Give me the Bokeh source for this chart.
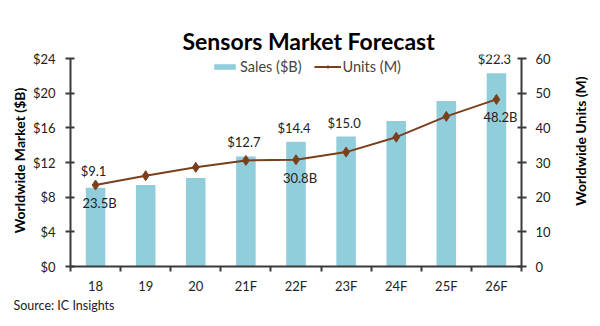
import math
from bokeh.plotting import figure
from bokeh.models import (Range1d, LinearAxis, FixedTicker, Label, Legend, LegendItem,
                          ColumnDataSource, NumeralTickFormatter, Title)
from bokeh.embed import file_html
from bokeh.resources import INLINE

# ---- data ----
years = ["18", "19", "20", "21F", "22F", "23F", "24F", "25F", "26F"]
sales = [9.1, 9.4, 10.2, 12.7, 14.4, 15.0, 16.8, 19.1, 22.3]
units = [23.5, 26.2, 28.6, 30.6, 30.8, 33.0, 37.3, 43.3, 48.2]
sales_label_idx = [0, 3, 4, 5, 8]
units_label_idx = [0, 4, 8]
sales_ticks = [0, 4, 8, 12, 16, 20, 24]
units_ticks = [0, 10, 20, 30, 40, 50, 60]
units_title = "Worldwide Units (M)"

FONT = "Lato"
BAR = "#92CDDC"
LINE = "#7B3F1C"
AXIS = "#3A3A3A"

xs = [i + 0.5 for i in range(len(years))]
sales_max = 24.0
units_max = 60.0
head = 24.0 / 208.0 * 4  # small headroom above the top tick so top labels are not clipped
ratio = units_max / sales_max
units_title_pos = 17.5  # where the rotated right-hand axis title starts (in units)

src = ColumnDataSource(dict(x=xs, sales=sales, units=units))

p = figure(width=600, height=326, output_backend="svg", toolbar_location=None,
           x_range=Range1d(0, len(years)), y_range=Range1d(0, sales_max + head),
           min_border_left=70, min_border_right=70, min_border_top=54, min_border_bottom=60,
           y_axis_location=None, x_axis_location=None)
p.extra_y_ranges = {"units": Range1d(0, (sales_max + head) * ratio)}
p.outline_line_color = None
p.xgrid.visible = False
p.ygrid.visible = False
p.background_fill_color = "white"
p.border_fill_color = "white"

p.title.text = "Sensors Market Forecast"
p.title.align = "left"
p.title.offset = 112
p.title.text_font = FONT
p.title.text_font_size = "23px"
p.title.text_font_style = "bold"
p.title.text_color = "black"
p.title.standoff = 0

# axes
xaxis = LinearAxis(ticker=FixedTicker(ticks=xs, minor_ticks=list(range(len(years) + 1))),
                   major_label_overrides={x: y for x, y in zip(xs, years)})
xaxis.major_tick_in = 0
xaxis.major_tick_out = 0
xaxis.minor_tick_in = 0
xaxis.minor_tick_out = 5
xaxis.major_label_standoff = 6
p.add_layout(xaxis, "below")

yaxis = LinearAxis(ticker=FixedTicker(ticks=sales_ticks), axis_label="Worldwide Market ($B)",
                   formatter=NumeralTickFormatter(format="$0"), bounds=(0, sales_max))
yaxis.major_tick_in = 4
yaxis.major_tick_out = 5
yaxis.major_label_standoff = 10
yaxis.axis_label_standoff = 2
p.add_layout(yaxis, "left")

raxis = LinearAxis(y_range_name="units", ticker=FixedTicker(ticks=units_ticks),
                   bounds=(0, units_max))
raxis.major_tick_in = 4
raxis.major_tick_out = 5
raxis.major_label_standoff = 9
p.add_layout(raxis, "right")

for ax in (xaxis, yaxis, raxis):
    ax.axis_line_color = AXIS
    ax.axis_line_width = 2
    ax.major_tick_line_color = AXIS
    ax.major_tick_line_width = 2
    ax.minor_tick_line_color = AXIS
    ax.minor_tick_line_width = 2
    ax.major_label_text_font = FONT
    ax.major_label_text_font_size = "13px"
    ax.major_label_text_color = "#222222"
    ax.axis_label_text_font = FONT
    ax.axis_label_text_font_size = "14px"
    ax.axis_label_text_font_style = "bold"
    ax.axis_label_text_color = "black"
yaxis.minor_tick_line_color = None
raxis.minor_tick_line_color = None

# right-hand axis title, reading bottom-to-top
rtitle = LinearAxis(y_range_name="units", ticker=FixedTicker(ticks=[units_title_pos]),
                    major_label_overrides={units_title_pos: units_title},
                    major_label_orientation=math.pi / 2)
rtitle.axis_line_color = None
rtitle.major_tick_line_color = None
rtitle.minor_tick_line_color = None
rtitle.major_tick_in = 0
rtitle.major_tick_out = 0
rtitle.major_label_standoff = 27
rtitle.major_label_text_font = FONT
rtitle.major_label_text_font_size = "14px"
rtitle.major_label_text_font_style = "bold"
rtitle.major_label_text_color = "black"
p.add_layout(rtitle, "right")

# source line
src_title = Title(text="Source: IC Insights", align="left", offset=-57, standoff=-2,
                  text_font=FONT, text_font_size="12.5px", text_font_style="normal",
                  text_color="#222222")
p.add_layout(src_title, "below")

# bars
bars = p.vbar(x="x", top="sales", width=0.39, source=src, fill_color=BAR, line_color=None)
# line
ln = p.line(x="x", y="units", source=src, line_color=LINE, line_width=2, y_range_name="units")
mk = p.scatter(x="x", y="units", source=src, marker="diamond", size=10, fill_color=LINE,
               line_color=LINE, y_range_name="units")

# data labels
for i in sales_label_idx:
    anchor = max(sales[i], units[i] / ratio)
    p.add_layout(Label(x=xs[i], y=anchor, text="$%.1f" % sales[i], text_align="center",
                       text_baseline="bottom", y_offset=6, x_offset=-2,
                       text_font=FONT, text_font_size="13px", text_color="#222222"))
for i in units_label_idx:
    p.add_layout(Label(x=xs[i], y=units[i], y_range_name="units", text="%.1fB" % units[i],
                       text_align="center", text_baseline="top", y_offset=-10, x_offset=4,
                       text_font=FONT, text_font_size="13px", text_color="#222222"))

# legend
legend = Legend(items=[LegendItem(label="Sales ($B)", renderers=[bars]),
                       LegendItem(label="Units (M)", renderers=[ln, mk])],
                orientation="horizontal", location=(141, 191),
                glyph_width=27, glyph_height=7, label_standoff=2, spacing=12,
                padding=0, margin=0, border_line_color=None, background_fill_alpha=0,
                label_text_font=FONT, label_text_font_size="14.5px", label_height=14)
p.add_layout(legend, "center")

open("out.html", "w").write(file_html(p, INLINE))
